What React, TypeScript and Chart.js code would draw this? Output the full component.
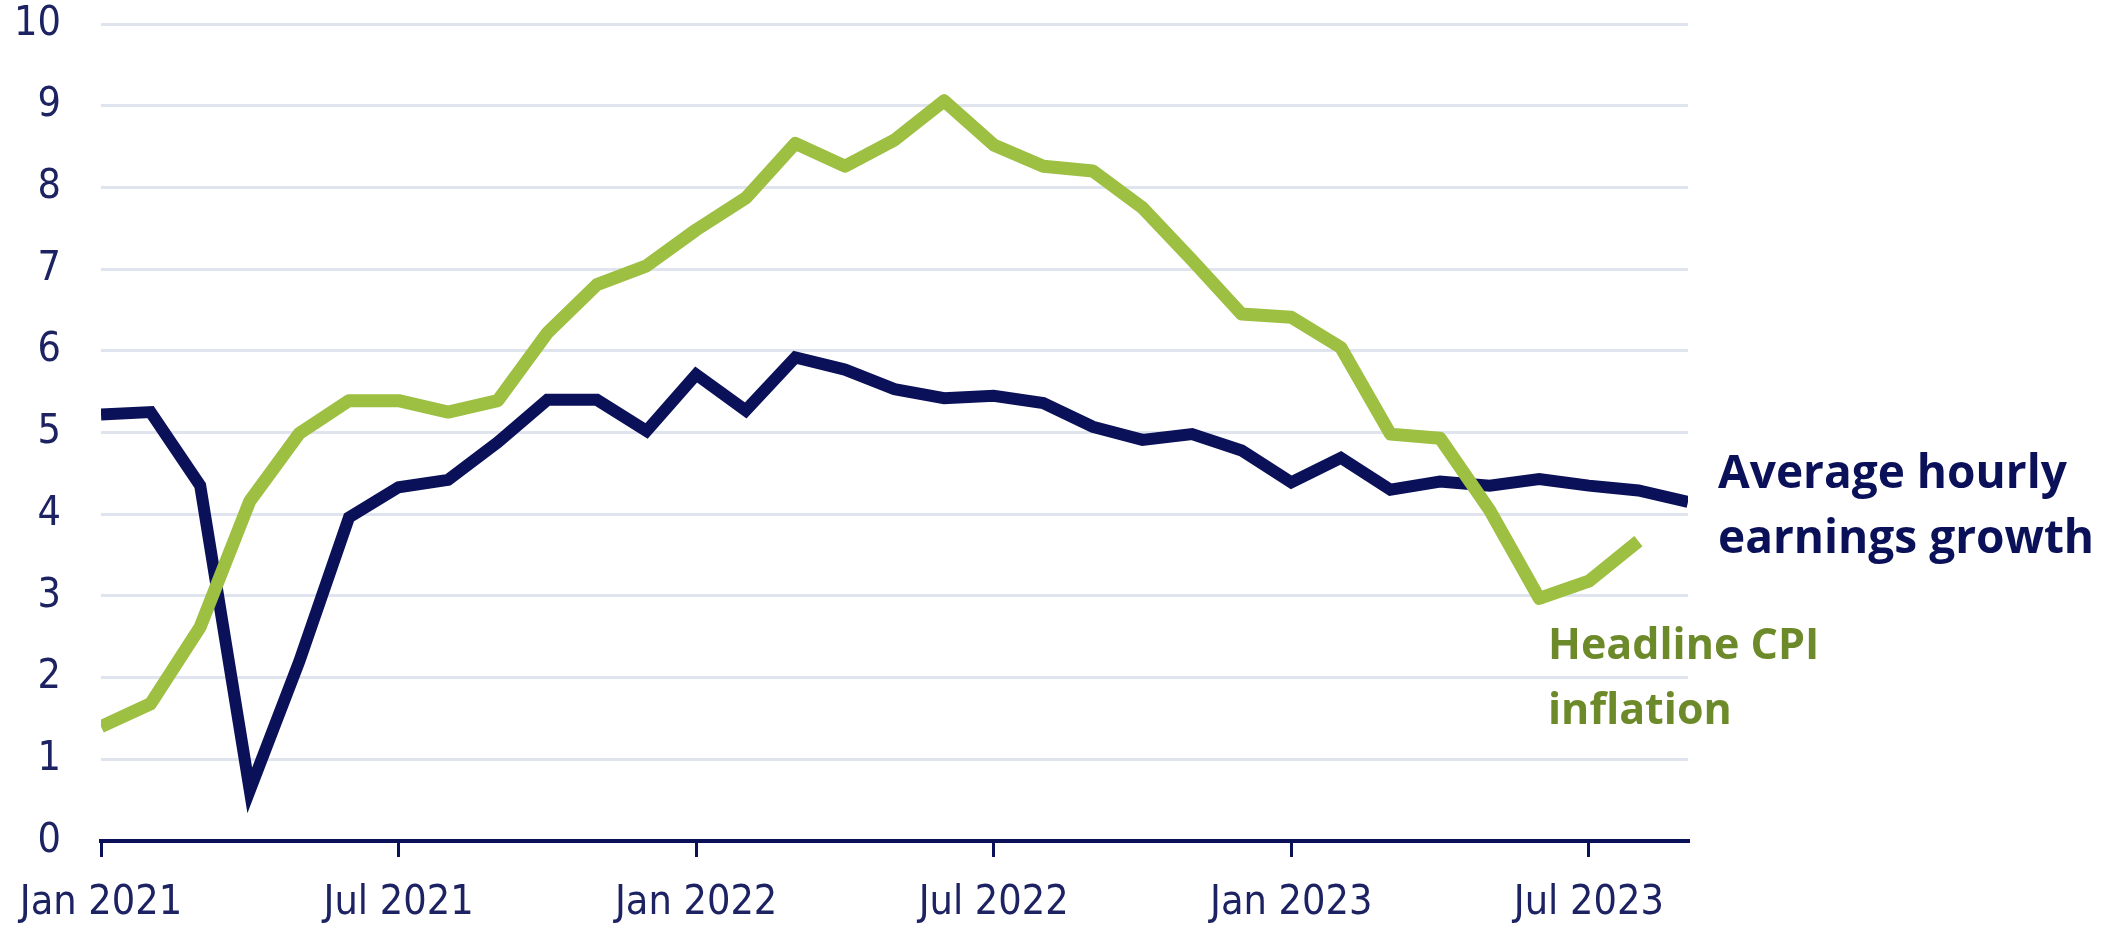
import React, { useEffect, useRef } from "react";
import { Chart, registerables } from "chart.js";

Chart.register(...registerables);

const monthLabels = [
  "Jan 2021","Feb 2021","Mar 2021","Apr 2021","May 2021","Jun 2021","Jul 2021","Aug 2021","Sep 2021","Oct 2021","Nov 2021","Dec 2021",
  "Jan 2022","Feb 2022","Mar 2022","Apr 2022","May 2022","Jun 2022","Jul 2022","Aug 2022","Sep 2022","Oct 2022","Nov 2022","Dec 2022",
  "Jan 2023","Feb 2023","Mar 2023","Apr 2023","May 2023","Jun 2023","Jul 2023","Aug 2023","Sep 2023",
];

const earningsGrowth = [
  5.22, 5.25, 4.35, 0.62, 2.2, 3.96, 4.33, 4.42, 4.88, 5.4, 5.4, 5.02,
  5.71, 5.27, 5.92, 5.77, 5.53, 5.42, 5.45, 5.36, 5.07, 4.91, 4.98, 4.78,
  4.39, 4.69, 4.3, 4.4, 4.35, 4.43, 4.35, 4.29, 4.15,
];

const cpiInflation = [
  1.4, 1.68, 2.62, 4.16, 4.99, 5.39, 5.39, 5.25, 5.39, 6.22, 6.81, 7.04,
  7.48, 7.87, 8.54, 8.26, 8.58, 9.06, 8.52, 8.26, 8.2, 7.75, 7.11, 6.45,
  6.41, 6.04, 4.98, 4.93, 4.05, 2.97, 3.18, 3.67,
];

const xTickMonths = [0, 6, 12, 18, 24, 30];
const yTicks = [0, 1, 2, 3, 4, 5, 6, 7, 8, 9, 10];

const NAVY = "#0b1158";
const GREEN = "#9dbf42";
const LABEL_GREEN = "#6d8a2b";
const GRID = "#dfe4ef";
const TICK_FONT = "'Liberation Sans Narrow', 'DejaVu Sans Condensed', sans-serif";

export default function App() {
  const ref = useRef<HTMLCanvasElement | null>(null);

  useEffect(() => {
    document.body.style.margin = "0";
    const ctx = ref.current!;
    const chart = new Chart(ctx, {
      type: "line",
      data: {
        datasets: [
          {
            label: "Headline CPI inflation",
            data: cpiInflation.map((v, i) => ({ x: i, y: v })),
            borderColor: GREEN,
            borderWidth: 13,
            pointRadius: 0,
            tension: 0,
            borderJoinStyle: "round",
          },
          {
            label: "Average hourly earnings growth",
            data: earningsGrowth.map((v, i) => ({ x: i, y: v })),
            borderColor: NAVY,
            borderWidth: 12,
            pointRadius: 0,
            tension: 0,
            borderJoinStyle: "miter",
          },
        ],
      },
      options: {
        animation: false,
        responsive: false,
        maintainAspectRatio: false,
        layout: { padding: { top: 24, right: 433, left: 0, bottom: 0 } },
        plugins: { legend: { display: false }, tooltip: { enabled: false } },
        scales: {
          x: {
            type: "linear",
            min: 0,
            max: monthLabels.length - 1,
            afterBuildTicks: (axis: any) => {
              axis.ticks = xTickMonths.map((v) => ({ value: v }));
            },
            afterFit: (axis: any) => {
              axis.height = 88;
              axis.paddingLeft = 0;
              axis.paddingRight = 0;
            },
            ticks: {
              autoSkip: false,
              maxRotation: 0,
              padding: 22,
              color: "#1c2262",
              font: { family: TICK_FONT, size: 41 },
              callback: (v: any) => monthLabels[v as number] ?? "",
            },
            grid: {
              drawOnChartArea: false,
              drawTicks: true,
              tickLength: 16,
              color: NAVY,
              lineWidth: 3,
            },
            border: { display: true, color: NAVY, width: 4, z: 1 },
          },
          y: {
            min: 0,
            max: 10,
            afterBuildTicks: (axis: any) => {
              axis.ticks = yTicks.map((v) => ({ value: v }));
            },
            afterFit: (axis: any) => {
              axis.width = 101;
              axis.paddingTop = 0;
              axis.paddingBottom = 0;
            },
            ticks: {
              padding: 40,
              color: "#1c2262",
              font: { family: TICK_FONT, size: 41 },
            },
            grid: {
              drawTicks: false,
              color: (c: any) => (c.tick && c.tick.value === 0 ? "rgba(0,0,0,0)" : GRID),
              lineWidth: 3,
            },
            border: { display: false },
          },
        },
      },
    });
    return () => chart.destroy();
  }, []);

  const labelBase: React.CSSProperties = {
    position: "absolute",
    fontFamily: "'Open Sans', 'Noto Sans', sans-serif",
    fontWeight: 700,
    lineHeight: "65px",
    whiteSpace: "nowrap",
  };

  return (
    <div style={{ position: "relative", width: 2121, height: 929, background: "#fff" }}>
      <canvas ref={ref} width={2121} height={929} style={{ display: "block" }} />
      <div style={{ ...labelBase, fontSize: 46, left: 1718, top: 438, color: NAVY }}>
        Average hourly
        <br />
        earnings growth
      </div>
      <div style={{ ...labelBase, fontSize: 43, left: 1548, top: 610, color: LABEL_GREEN }}>
        Headline CPI
        <br />
        inflation
      </div>
    </div>
  );
}
